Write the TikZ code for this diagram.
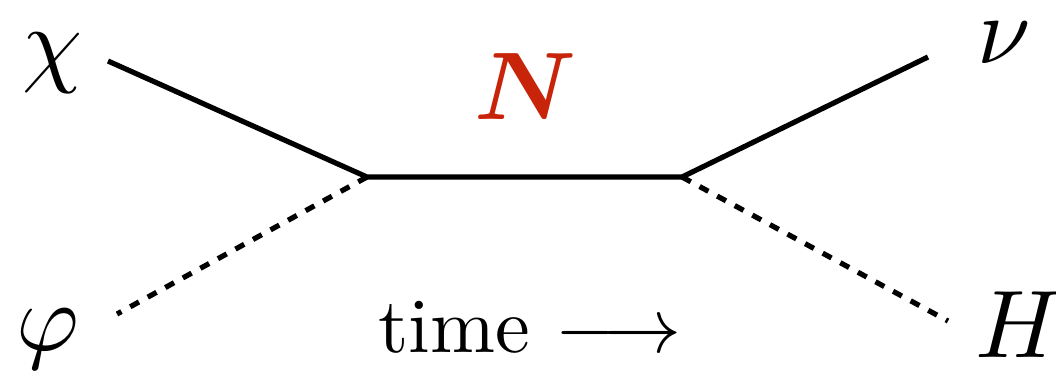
\documentclass[tikz,border=0pt]{standalone}
\usepackage{graphicx}
\usepackage{bm}
\definecolor{nred}{RGB}{200,36,10}
\newcommand{\biglbl}[1]{\scalebox{4.8}{#1}}
\newcommand{\timelbl}[1]{\scalebox{3.9}{#1}}
\tikzset{
  fermion/.style={line width=2.6pt},
  scalar/.style={line width=2.6pt, dash pattern=on 5pt off 5pt},
  lbl/.style={inner sep=0pt, anchor=base},
}
\begin{document}
\begin{tikzpicture}[x=0.5pt, y=-0.5pt]
\useasboundingbox (0,0) rectangle (1056,372);
\coordinate (v1) at (367,177);
\coordinate (v2) at (682,177);
\coordinate (a) at (108,61);
\coordinate (b) at (928,57);
\coordinate (c) at (117,314);
\coordinate (d) at (948,321);
\node[lbl] (chi) at (53,74) {\biglbl{$\chi$}};
\node[lbl] (nu) at (1004,63) {\biglbl{$\nu$}};
\node[lbl] (phi) at (48,350) {\biglbl{$\varphi$}};
\node[lbl] (H) at (1019,357) {\biglbl{$H$}};
\node[lbl, text=nred] (Nlab) at (526,119) {\biglbl{$\bm{N}$}};
\node[lbl] (time) at (530,352) {\timelbl{time $\longrightarrow$}};
\draw[fermion] (a) -- (v1) -- (v2) -- (b);
\draw[scalar] (v1) -- (c);
\draw[scalar] (v2) -- (d);
\end{tikzpicture}
\end{document}
